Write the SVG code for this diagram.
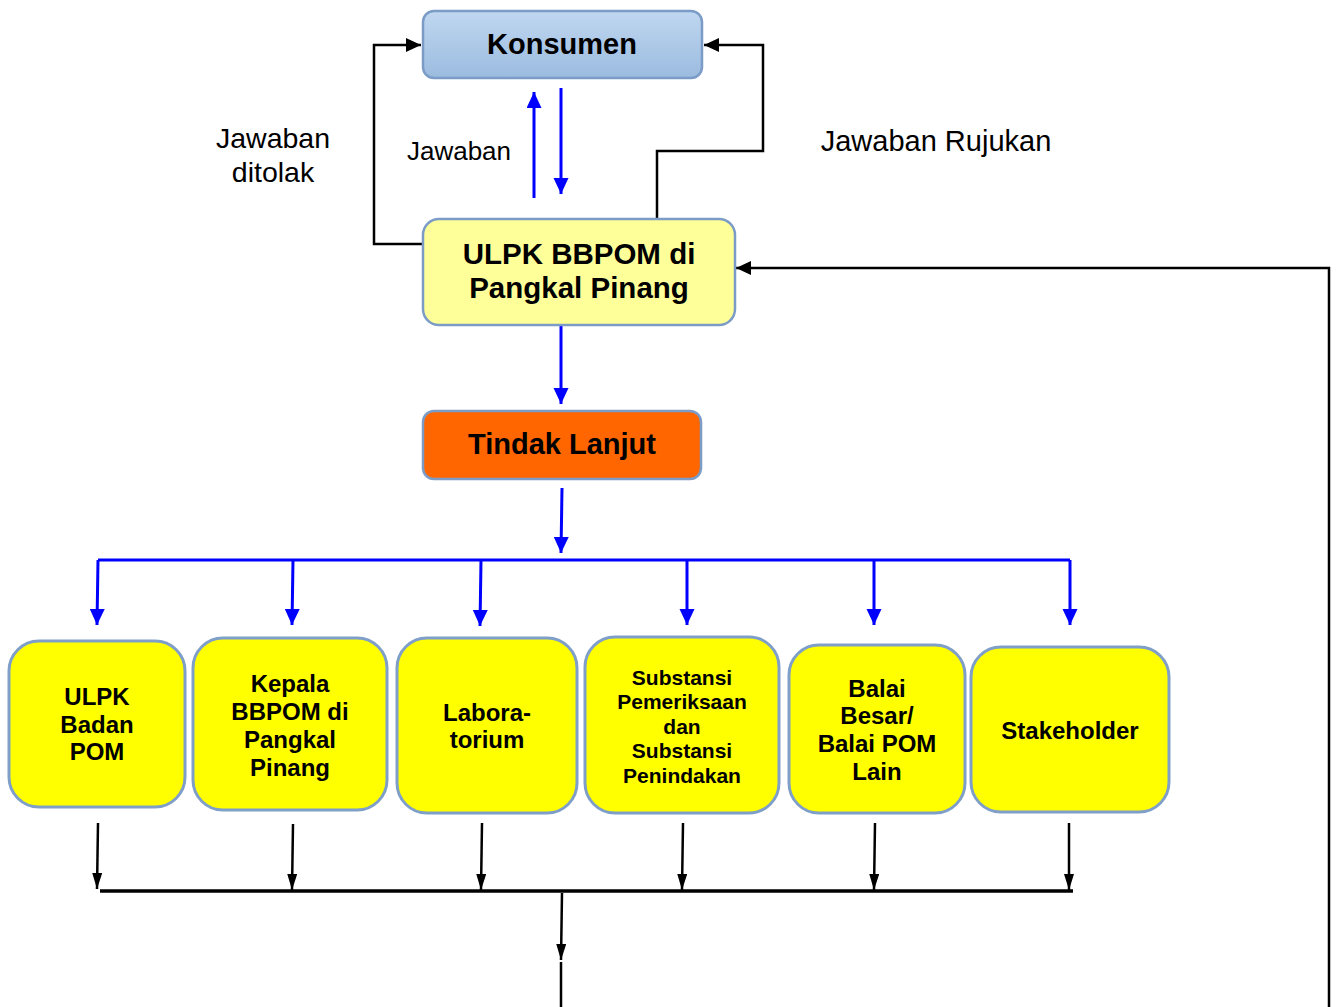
<svg xmlns="http://www.w3.org/2000/svg" width="1338" height="1007" viewBox="0 0 1338 1007">
<style>
.lbl{font-family:"Liberation Sans",Arial,sans-serif;fill:#000;text-anchor:middle}
.b{font-weight:bold}
.blue{stroke:#0000ff;stroke-width:3;fill:none}
.blk{stroke:#000;stroke-width:2.5;fill:none}
.box{fill:#ffff00;stroke:#7f9fc9;stroke-width:3}
</style>
<defs>
<linearGradient id="gK" x1="0" y1="0" x2="0" y2="1">
<stop offset="0" stop-color="#c0d7f0"/>
<stop offset="1" stop-color="#9bbbdf"/>
</linearGradient>
<marker id="ab" markerUnits="userSpaceOnUse" markerWidth="16" markerHeight="18" refX="16" refY="7.5" orient="auto">
<path d="M0,0 L16,7.5 L0,15 Z" fill="#0000ff"/>
</marker>
<marker id="ak" markerUnits="userSpaceOnUse" markerWidth="16" markerHeight="16" refX="15" refY="7" orient="auto">
<path d="M0,0 L15,7 L0,14 Z" fill="#000"/>
</marker>
<marker id="an" markerUnits="userSpaceOnUse" markerWidth="18" markerHeight="12" refX="16" refY="5" orient="auto">
<path d="M0,0 L16,5 L0,10 Z" fill="#000"/>
</marker>
</defs>

<g id="connectors">
<path class="blk" d="M423,244 H374 V45 H421" marker-end="url(#ak)"/>
<path class="blk" d="M657,219 V151 H763 V45 H704" marker-end="url(#ak)"/>
<path class="blue" d="M534,198 V92" marker-end="url(#ab)"/>
<path class="blue" d="M561,88 V194" marker-end="url(#ab)"/>
<path class="blue" d="M561,326 V404" marker-end="url(#ab)"/>
<path class="blue" d="M562,488 L561,553" marker-end="url(#ab)"/>
<path class="blue" d="M98,560 H1070"/>
<path class="blue" d="M98,560 L97,625" marker-end="url(#ab)"/>
<path class="blue" d="M293,560 L292,625" marker-end="url(#ab)"/>
<path class="blue" d="M481,560 L480,626" marker-end="url(#ab)"/>
<path class="blue" d="M687,560 V625" marker-end="url(#ab)"/>
<path class="blue" d="M874,560 V625" marker-end="url(#ab)"/>
<path class="blue" d="M1070,560 V625" marker-end="url(#ab)"/>
<path class="blk" d="M98,823 L97,889" marker-end="url(#an)"/>
<path class="blk" d="M293,824 L292,890" marker-end="url(#an)"/>
<path class="blk" d="M482,823 L481,890" marker-end="url(#an)"/>
<path class="blk" d="M683,823 L682,890" marker-end="url(#an)"/>
<path class="blk" d="M875,823 L874,890" marker-end="url(#an)"/>
<path class="blk" d="M1069,823 V890" marker-end="url(#an)"/>
<path d="M100,891 H1073" stroke="#000" stroke-width="3.5" fill="none"/>
<path class="blk" d="M562,893 L561,960" marker-end="url(#an)"/>
<path class="blk" d="M561,962 V1007"/>
<path class="blk" d="M1329,1007 V268 H736" marker-end="url(#ak)"/>
</g>

<g id="konsumen">
<rect x="423" y="11" width="279" height="67" rx="11" fill="url(#gK)" stroke="#7a9cc6" stroke-width="2.5"/>
<text class="lbl b" x="562" y="54" font-size="29">Konsumen</text>
</g>

<g id="ulpk-bbpom">
<rect x="423" y="219" width="312" height="106" rx="16" fill="#ffff99" stroke="#7b9cc6" stroke-width="2.5"/>
<text class="lbl b" x="579" y="264" font-size="29.5">ULPK BBPOM di</text>
<text class="lbl b" x="579" y="298" font-size="29.5">Pangkal Pinang</text>
</g>

<g id="tindak-lanjut">
<rect x="423" y="411" width="278" height="68" rx="11" fill="#ff6600" stroke="#7a9cc6" stroke-width="2.5"/>
<text class="lbl b" x="562" y="454" font-size="29">Tindak Lanjut</text>
</g>

<g id="label-jawaban-ditolak">
<text class="lbl" x="273" y="148" font-size="28.5">Jawaban</text>
<text class="lbl" x="273" y="182" font-size="28.5">ditolak</text>
</g>
<g id="label-jawaban">
<text class="lbl" x="459" y="160" font-size="26">Jawaban</text>
</g>
<g id="label-jawaban-rujukan">
<text class="lbl" x="936" y="151" font-size="29">Jawaban Rujukan</text>
</g>

<g id="ulpk-badan-pom">
<rect class="box" x="9" y="641" width="176" height="166" rx="30"/>
<text class="lbl b" x="97" y="705" font-size="24">ULPK</text>
<text class="lbl b" x="97" y="733" font-size="24">Badan</text>
<text class="lbl b" x="97" y="760" font-size="24">POM</text>
</g>

<g id="kepala-bbpom">
<rect class="box" x="193" y="638" width="194" height="172" rx="30"/>
<text class="lbl b" x="290" y="692" font-size="24">Kepala</text>
<text class="lbl b" x="290" y="720" font-size="24">BBPOM di</text>
<text class="lbl b" x="290" y="748" font-size="24">Pangkal</text>
<text class="lbl b" x="290" y="776" font-size="24">Pinang</text>
</g>

<g id="laboratorium">
<rect class="box" x="397" y="638" width="180" height="175" rx="30"/>
<text class="lbl b" x="487" y="721" font-size="24">Labora-</text>
<text class="lbl b" x="487" y="748" font-size="24">torium</text>
</g>

<g id="substansi">
<rect class="box" x="585" y="637" width="194" height="176" rx="30"/>
<text class="lbl b" x="682" y="685" font-size="21">Substansi</text>
<text class="lbl b" x="682" y="709" font-size="21">Pemeriksaan</text>
<text class="lbl b" x="682" y="734" font-size="21">dan</text>
<text class="lbl b" x="682" y="758" font-size="21">Substansi</text>
<text class="lbl b" x="682" y="783" font-size="21">Penindakan</text>
</g>

<g id="balai-pom-lain">
<rect class="box" x="789" y="645" width="176" height="168" rx="30"/>
<text class="lbl b" x="877" y="697" font-size="24">Balai</text>
<text class="lbl b" x="877" y="724" font-size="24">Besar/</text>
<text class="lbl b" x="877" y="752" font-size="24">Balai POM</text>
<text class="lbl b" x="877" y="780" font-size="24">Lain</text>
</g>

<g id="stakeholder">
<rect class="box" x="971" y="647" width="198" height="165" rx="30"/>
<text class="lbl b" x="1070" y="739" font-size="24">Stakeholder</text>
</g>
</svg>
